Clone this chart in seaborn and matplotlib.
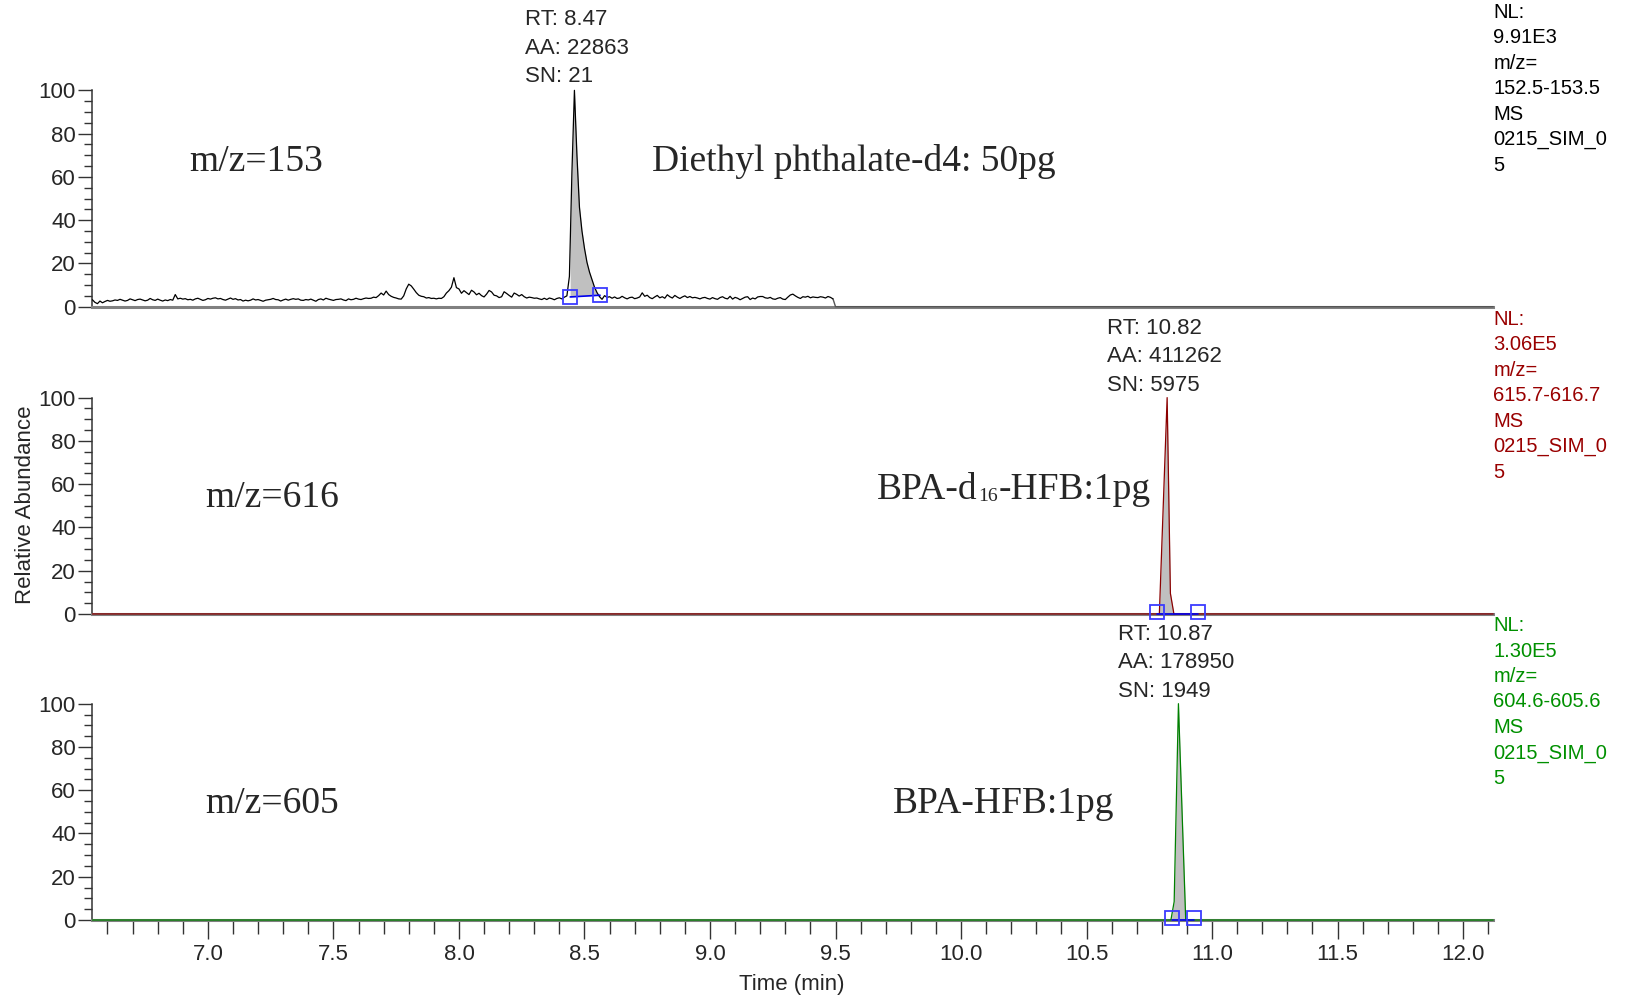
import numpy as np
import pandas as pd
import matplotlib
matplotlib.use("Agg")
import matplotlib.pyplot as plt
import seaborn as sns
from matplotlib.ticker import MultipleLocator, FormatStrFormatter

# --- data ---
x_range = [6.54, 12.12]

# m/z 153 trace, one scan every 0.01 min from 6.54 to 9.49
scan_start = 6.54
scan_step = 0.01
trace_153 = [
    3.2, 2.0, 1.4, 2.6, 1.8, 2.4, 2.9, 2.5, 2.7, 3.1,
    2.9, 3.4, 3.0, 2.6, 2.9, 3.6, 3.2, 2.8, 3.3, 3.5,
    3.1, 2.7, 3.0, 3.8, 3.2, 2.9, 3.5, 3.0, 2.6, 3.1,
    2.8, 3.3, 3.0, 5.6, 3.6, 3.9, 3.5, 3.7, 3.2, 3.4,
    3.0, 3.6, 3.9, 3.4, 2.9, 3.2, 3.8, 3.5, 3.9, 4.1,
    3.6, 3.8, 3.3, 3.0, 3.5, 4.0, 3.4, 3.7, 3.1, 3.3,
    2.6, 3.0, 2.7, 3.0, 3.6, 3.1, 3.3, 2.9, 2.5, 3.0,
    3.2, 3.4, 3.8, 3.3, 3.2, 2.6, 3.1, 3.5, 3.0, 3.4,
    3.7, 3.4, 3.6, 3.0, 2.9, 3.3, 3.1, 3.5, 3.0, 2.5,
    3.3, 3.6, 3.1, 3.9, 3.5, 3.2, 2.9, 3.3, 3.4, 3.6,
    3.1, 2.8, 3.6, 3.2, 3.4, 3.9, 3.5, 3.3, 3.7, 4.0,
    3.8, 3.9, 4.4, 4.2, 5.1, 6.3, 5.4, 7.2, 5.6, 4.8,
    4.3, 4.0, 3.6, 3.5, 5.0, 8.2, 10.4, 9.6, 8.1, 6.5,
    5.3, 4.8, 4.6, 4.0, 4.2, 3.8, 3.9, 3.6, 3.9, 3.8,
    4.6, 6.3, 7.4, 9.0, 13.4, 8.8, 8.2, 6.2, 7.4, 6.5,
    5.6, 7.6, 6.8, 5.5, 6.2, 5.1, 4.5, 5.8, 7.5, 6.8,
    5.3, 5.0, 4.2, 4.6, 6.9, 6.1, 5.2, 4.4, 6.3, 5.7,
    4.9, 5.6, 4.6, 4.0, 4.4, 4.2, 3.9, 4.0, 3.6, 3.3,
    3.9, 3.3, 4.0, 3.7, 3.2, 3.8, 4.1, 3.6, 4.4, 5.0,
    14.0, 62.0, 100.0, 70.0, 46.0, 35.0, 27.0, 20.5, 16.0, 12.5,
    9.0, 6.5, 4.6, 3.4, 5.1, 4.3, 4.6, 3.9, 4.5, 3.8,
    4.0, 4.8, 4.1, 3.6, 4.2, 4.4, 3.7, 4.0, 4.5, 6.4,
    4.8, 5.3, 4.2, 3.7, 4.5, 5.2, 4.1, 4.6, 3.9, 5.5,
    4.6, 4.0, 5.2, 4.4, 3.8, 4.5, 5.0, 4.2, 4.7, 4.1,
    4.3, 4.0, 3.6, 4.1, 4.3, 3.8, 3.5, 4.2, 3.7, 3.4,
    4.2, 4.6, 3.9, 3.6, 4.8, 3.5, 4.3, 3.9, 3.2, 3.8,
    4.4, 4.6, 3.3, 4.0, 3.6, 4.5, 4.7, 4.7, 4.1, 3.9,
    4.3, 3.6, 3.4, 3.9, 4.2, 3.5, 3.3, 4.4, 5.4, 5.8,
    5.0, 4.3, 3.8, 4.6, 4.4, 4.8, 4.1, 4.5, 4.3, 4.2,
    4.6, 4.4, 4.0, 4.7, 4.3, 3.6,
]
# after the SIM window closes the signal is zero
tail_153_t = [9.49, 9.50, 12.12]
tail_153_y = [3.6, 0.0, 0.0]

# m/z 616 and m/z 605 traces (flat with one peak)
t_616 = [6.54, 10.790, 10.821, 10.834, 10.848, 12.12]
y_616 = [0.0, 0.0, 100.0, 9.5, 0.0, 0.0]
t_605 = [6.54, 10.836, 10.849, 10.866, 10.895, 12.12]
y_605 = [0.0, 0.0, 8.5, 100.0, 0.0, 0.0]

# integration markers (start / end of peak)
box_t_153 = [8.443, 8.562]
box_y_153 = [4.5, 5.3]
box_t_616 = [10.779, 10.945]
box_t_605 = [10.839, 10.929]

peak_info = ["RT: 8.47\nAA: 22863\nSN: 21",
             "RT: 10.82\nAA: 411262\nSN: 5975",
             "RT: 10.87\nAA: 178950\nSN: 1949"]
peak_text_x = [8.263, 10.582, 10.627]
ion_labels = ["m/z=153", "m/z=616", "m/z=605"]
compound_labels = ["Diethyl phthalate-d4: 50pg",
                   ["BPA-d", "16", "-HFB:1pg"],
                   "BPA-HFB:1pg"]
compound_x = [8.769, 9.665, 9.729]
label_y = [62.5, 49.3, 49.5]
nl_text = ["NL:\n9.91E3\nm/z=\n152.5-153.5\nMS\n0215_SIM_0\n5",
           "NL:\n3.06E5\nm/z=\n615.7-616.7\nMS\n0215_SIM_0\n5",
           "NL:\n1.30E5\nm/z=\n604.6-605.6\nMS\n0215_SIM_0\n5"]
colors = ["#000000", "#8b0000", "#008000"]
text_colors = ["#000000", "#990000", "#009000"]

# --- build traces ---
t_153 = np.round(scan_start + scan_step * np.arange(len(trace_153)), 3)
df153 = pd.DataFrame({"t": t_153, "y": trace_153})
tail153 = pd.DataFrame({"t": tail_153_t, "y": tail_153_y})
traces = [df153,
          pd.DataFrame({"t": t_616, "y": y_616}),
          pd.DataFrame({"t": t_605, "y": y_605})]
boxes = [(box_t_153, box_y_153), (box_t_616, [0.8, 0.8]), (box_t_605, [0.8, 0.8])]

sns.set_style("ticks")
plt.rcParams['font.family'] = ['Liberation Sans', 'DejaVu Sans']

fig = plt.figure(figsize=(16.3, 9.97), dpi=100)
bottoms = [0.6924, 0.3842, 0.0772]
axes = []
for i in range(3):
    ax = fig.add_axes([0.0567, bottoms[i], 0.8594, 0.217])
    axes.append(ax)
    df = traces[i]
    # grey integrated area
    bt, by = boxes[i]
    m = (df["t"] >= bt[0]) & (df["t"] <= bt[1])
    tt = np.concatenate([[bt[0]], df["t"][m].values, [bt[1]]])
    yy = np.interp(tt, df["t"].values, df["y"].values)
    base = np.interp(tt, bt, by if i == 0 else [0, 0])
    ax.fill_between(tt, yy, base, color="#c0c0c0", lw=0, zorder=1)
    if i == 0:
        sns.lineplot(data=tail153, x="t", y="y", ax=ax, color="#555555", lw=1.0,
                     estimator=None, sort=False, zorder=3)
    sns.lineplot(data=df, x="t", y="y", ax=ax, color=colors[i], lw=0.9,
                 estimator=None, sort=False, zorder=3)
    for l in ax.lines:
        l.set_clip_on(False)
    ax.plot(bt, by if i == 0 else [0, 0], color="#0000ee", lw=1.2, zorder=4, clip_on=False)
    ax.plot(bt, by, ls="none", marker="s", ms=10, mfc="none", mec="#3b3bff",
            mew=1.3, zorder=5, clip_on=False)

    ax.set_xlim(x_range)
    ax.set_ylim(0, 100)
    sns.despine(ax=ax)
    ax.spines["left"].set_color("#333333")
    ax.spines["left"].set_linewidth(1.1)
    ax.spines["bottom"].set_color("#808080")
    ax.spines["bottom"].set_linewidth(2.2)
    ax.yaxis.set_major_locator(MultipleLocator(20))
    ax.yaxis.set_minor_locator(MultipleLocator(5))
    ax.tick_params(axis="y", which="major", length=10, width=1, pad=2,
                   labelsize=16, color="#333333")
    ax.tick_params(axis="y", which="minor", length=6, width=1, color="#333333")
    ax.set_xlabel("")
    ax.set_ylabel("")
    if i < 2:
        ax.tick_params(axis="x", which="both", length=0, labelbottom=False)
    else:
        ax.xaxis.set_major_locator(MultipleLocator(0.5))
        ax.xaxis.set_minor_locator(MultipleLocator(0.1))
        ax.xaxis.set_major_formatter(FormatStrFormatter("%.1f"))
        ax.tick_params(axis="x", which="major", length=14, width=1, pad=3,
                       labelsize=16, color="#333333")
        ax.tick_params(axis="x", which="minor", length=10, width=1, color="#333333")

    ax.text(peak_text_x[i], 137.5 if i == 0 else 137.0, peak_info[i], fontsize=16,
            va="top", ha="left", linespacing=1.47, clip_on=False)
    ax.text(6.924 if i == 0 else 6.988, label_y[i], ion_labels[i],
            family="Liberation Serif", fontsize=27, va="baseline")
    lab = compound_labels[i]
    if isinstance(lab, list):
        # main text, small subscript, then the rest on the same baseline
        t1 = ax.text(compound_x[i], label_y[i], lab[0],
                     family="Liberation Serif", fontsize=27, va="bottom")
        t2 = ax.annotate(lab[1], xy=(1, 0), xycoords=t1, xytext=(0.5, 1.5),
                         textcoords="offset points", family="Liberation Serif",
                         fontsize=14, va="bottom", ha="left")
        ax.annotate(lab[2], xy=(1, 0), xycoords=(t2, t1), xytext=(0.5, 0),
                    textcoords="offset points", family="Liberation Serif",
                    fontsize=27, va="bottom", ha="left")
    else:
        ax.text(compound_x[i], label_y[i], lab,
                family="Liberation Serif", fontsize=27, va="baseline")
    ax.text(1.0, 140.5, nl_text[i], transform=ax.get_yaxis_transform(),
            fontsize=14.5, color=text_colors[i], va="top", ha="left",
            linespacing=1.43, clip_on=False)

fig.text(0.0155, 0.494, "Relative Abundance", rotation=90, fontsize=16,
         ha="center", va="center")
fig.text(0.486, 0.013, "Time (min)", fontsize=16, ha="center", va="center")

fig.savefig("out.png", dpi=100)
